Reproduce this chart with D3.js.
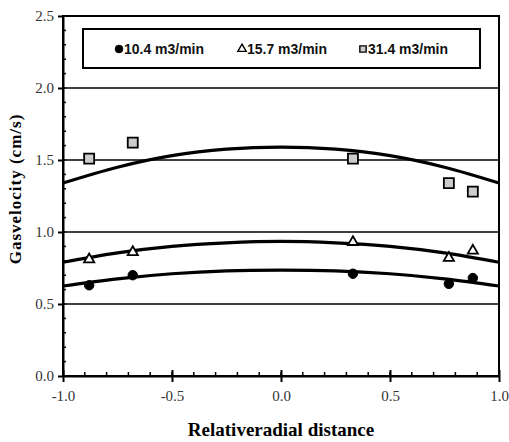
<!DOCTYPE html>
<html>
<head>
<meta charset="utf-8">
<script src="https://cdn.jsdelivr.net/npm/d3@7"></script>
<style>
body{margin:0;background:#fff;}
</style>
</head>
<body>
<script>
var seriesNames = ['10.4 m3/min','15.7 m3/min','31.4 m3/min'];
var pointX = [-0.88,-0.68,0.33,0.77,0.88];
var low = [0.63,0.70,0.71,0.64,0.68];
var mid = [0.81,0.86,0.93,0.82,0.87];
var high = [1.51,1.62,1.51,1.34,1.28];

var fitX = [-1,-0.75,-0.5,-0.25,0,0.25,0.5,0.75,1];
var fitLow = [0.625,0.675,0.71,0.73,0.735,0.73,0.71,0.675,0.625];
var fitMid = [0.79,0.855,0.90,0.925,0.935,0.925,0.90,0.855,0.79];
var fitHigh = [1.34,1.45,1.53,1.575,1.59,1.575,1.53,1.45,1.34];

var xTicks = [-1,-0.5,0,0.5,1];
var yTicks = [0,0.5,1,1.5,2,2.5];

var width = 509, height = 442;
var margin = {left:63,right:10,top:16,bottom:66};

var svg = d3.select('body').append('svg').attr('width',width).attr('height',height);

var x = d3.scaleLinear().domain([-1,1]).range([margin.left,width-margin.right]);
var y = d3.scaleLinear().domain([0,2.5]).range([height-margin.bottom,margin.top]);
var fmt = d=>d.toFixed(1);

// grid lines
svg.append('g').selectAll('line').data([0.5,1,1.5,2]).enter().append('line')
	.attr('x1',x(-1)).attr('x2',x(1))
	.attr('y1',d=>y(d)).attr('y2',d=>y(d))
	.attr('stroke','#000').attr('stroke-width',1.6);

// frame
svg.append('rect')
	.attr('x',x(-1)).attr('y',y(2.5))
	.attr('width',x(1)-x(-1)).attr('height',y(0)-y(2.5))
	.attr('fill','none').attr('stroke','#000').attr('stroke-width',2);

// minor ticks
var minorX = d3.range(-10,11).map(d=>d/10);
svg.append('g').selectAll('line').data(minorX).enter().append('line')
	.attr('x1',d=>x(d)).attr('x2',d=>x(d))
	.attr('y1',y(0)).attr('y2',y(0)-4)
	.attr('stroke','#000').attr('stroke-width',1.5);
var minorY = d3.range(0,26).map(d=>d/10);
svg.append('g').selectAll('line').data(minorY).enter().append('line')
	.attr('x1',x(-1)).attr('x2',x(-1)+3)
	.attr('y1',d=>y(d)).attr('y2',d=>y(d))
	.attr('stroke','#000').attr('stroke-width',1.5);

// axes
var xAxis = svg.append('g').attr('transform',`translate(0,${y(0)})`)
	.call(d3.axisBottom(x).tickValues(xTicks).tickFormat(fmt).tickSizeInner(6).tickSizeOuter(0).tickPadding(8));
xAxis.selectAll('.tick line').attr('y1',-6).attr('stroke-width',2);
var yAxis = svg.append('g').attr('transform',`translate(${x(-1)},0)`)
	.call(d3.axisLeft(y).tickValues(yTicks).tickFormat(fmt).tickSizeInner(5).tickSizeOuter(0).tickPadding(4));
yAxis.selectAll('.tick line').attr('stroke-width',2);
svg.selectAll('.domain').attr('stroke-width',2);
svg.selectAll('.tick text')
	.attr('font-family','Liberation Serif, serif').attr('font-size',15).attr('fill','#333');

// fitted curves
var lineGen = d3.line().x(d=>x(d[0])).y(d=>y(d[1])).curve(d3.curveCatmullRom);
[fitLow,fitMid,fitHigh].forEach(f=>{
	svg.append('path')
		.attr('d',lineGen(fitX.map((v,i)=>[v,f[i]])))
		.attr('fill','none').attr('stroke','#000').attr('stroke-width',3.2);
});

// points
var sym = [d3.symbolCircle,d3.symbolTriangle,d3.symbolSquare];
var fills = ['#000','#fff','#ccc'];
var sizes = [70,45,100];
[low,mid,high].forEach((s,k)=>{
	svg.append('g').selectAll('path').data(s).enter().append('path')
		.attr('transform',(d,i)=>`translate(${x(pointX[i])},${y(d)})`)
		.attr('d',d3.symbol().type(sym[k]).size(sizes[k]))
		.attr('fill',fills[k]).attr('stroke','#000').attr('stroke-width',k==0?1:1.8);
});

// legend
var lg = svg.append('g');
lg.append('rect').attr('x',83).attr('y',29).attr('width',397).attr('height',39)
	.attr('fill','#fff').attr('stroke','#000').attr('stroke-width',2);
var legX = [119,242,363];
seriesNames.forEach((n,k)=>{
	lg.append('path')
		.attr('transform',`translate(${legX[k]},49)`)
		.attr('d',d3.symbol().type(sym[k]).size([50,30,40][k]))
		.attr('fill',fills[k]).attr('stroke','#000').attr('stroke-width',k==0?0.5:1.4);
	lg.append('text').attr('x',legX[k]+5).attr('y',54).text(n)
		.attr('font-family','Liberation Sans, Arial, sans-serif')
		.attr('textLength',80).attr('lengthAdjust','spacingAndGlyphs')
		.attr('font-weight','bold').attr('font-size',15).attr('fill','#111');
});

// titles
svg.append('text').attr('x',x(0)).attr('y',436).attr('text-anchor','middle')
	.attr('font-family','Liberation Serif, serif').attr('font-weight','bold').attr('font-size',19)
	.text('Relativeradial distance');
svg.append('text').attr('transform','translate(21,189) rotate(-90)').attr('text-anchor','middle')
	.attr('font-family','Liberation Serif, serif').attr('font-weight','bold').attr('font-size',17)
	.attr('letter-spacing',1)
	.text('Gasvelocity (cm/s)');
</script>
</body>
</html>
